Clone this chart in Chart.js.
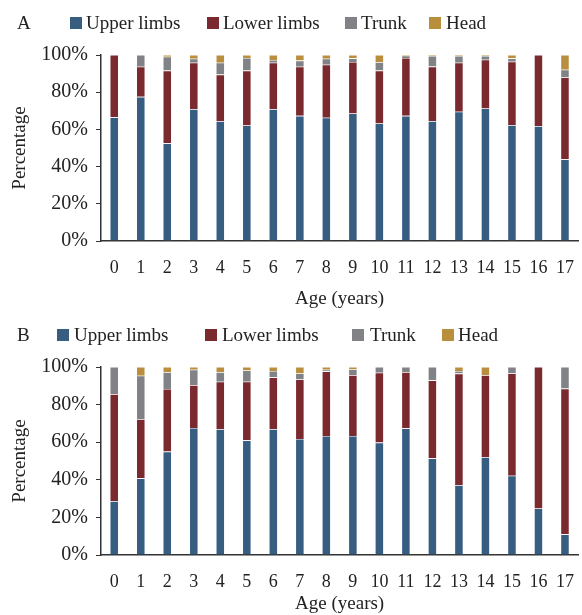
<!DOCTYPE html>
<html>
<head>
<meta charset="utf-8">
<script src="https://cdn.jsdelivr.net/npm/chart.js@4.4.1/dist/chart.umd.min.js"></script>
<style>
  body { margin: 0; background: #fff; font-family: "Liberation Serif", "Times New Roman", serif; color: #222; }
  #wrap { position: relative; width: 582px; height: 615px; overflow: hidden; }
  .panel { position: absolute; left: 0; width: 582px; }
  .legend { position: absolute; left: 0; height: 24px; font-size: 19px; line-height: 24px; }
  .legend span { position: absolute; white-space: nowrap; }
  .legend i { position: absolute; width: 12px; height: 12px; top: 6px; }
</style>
</head>
<body>
<div id="wrap">
  <div class="panel" style="top:0;height:310px"><canvas id="chartA"></canvas></div>
  <div class="panel" style="top:310px;height:305px"><canvas id="chartB"></canvas></div>
  <div class="legend" style="top:11px">
    <span style="left:17px">A</span>
    <i style="left:70px;background:#375d81"></i><span style="left:86px">Upper limbs</span>
    <i style="left:207px;background:#7a2a2e"></i><span style="left:223px">Lower limbs</span>
    <i style="left:345px;background:#808285"></i><span style="left:361px">Trunk</span>
    <i style="left:429px;background:#b98f3e"></i><span style="left:446px">Head</span>
  </div>
  <div class="legend" style="top:323px">
    <span style="left:17px">B</span>
    <i style="left:57px;background:#375d81"></i><span style="left:74px">Upper limbs</span>
    <i style="left:205px;background:#7a2a2e"></i><span style="left:222px">Lower limbs</span>
    <i style="left:352px;background:#808285"></i><span style="left:370px">Trunk</span>
    <i style="left:442px;background:#b98f3e"></i><span style="left:458px">Head</span>
  </div>
</div>
<script>
const ages = ["0", "1", "2", "3", "4", "5", "6", "7", "8", "9", "10", "11", "12", "13", "14", "15", "16", "17"];
const yTicks = [0, 20, 40, 60, 80, 100];

// Panel A
const upperA = [66.5, 77.5, 52.5, 70.9, 64.5, 62.1, 70.9, 67.3, 66.3, 68.6, 63.2, 67.3, 64.5, 69.5, 71.3, 62.3, 61.8, 43.9];
const lowerA = [33.5, 16.2, 39.1, 25.0, 25.0, 29.5, 25.0, 26.4, 28.5, 27.7, 28.4, 31.1, 29.3, 26.4, 26.2, 34.1, 38.2, 44.0];
const trunkA = [0, 6.3, 7.5, 2.1, 6.4, 6.8, 1.4, 3.3, 3.2, 1.9, 4.5, 1.2, 5.7, 3.6, 2.0, 1.8, 0, 4.2];
const headA = [0, 0, 0.9, 2.0, 4.1, 1.6, 2.7, 3.0, 2.0, 1.8, 3.9, 0.4, 0.5, 0.5, 0.5, 1.8, 0, 7.9];

// Panel B
const upperB = [28.7, 40.8, 55.0, 67.6, 67.0, 61.0, 67.0, 61.7, 63.3, 63.3, 59.8, 67.4, 51.4, 37.2, 52.1, 42.2, 24.8, 11.0];
const lowerB = [56.8, 31.5, 33.3, 22.8, 25.2, 31.2, 27.5, 31.7, 34.4, 32.4, 37.2, 29.9, 41.5, 59.3, 43.5, 54.4, 75.2, 77.5];
const trunkB = [14.5, 23.1, 8.9, 8.2, 5.0, 6.0, 3.4, 3.2, 0.9, 3.1, 3.0, 2.7, 7.1, 1.4, 0, 3.4, 0, 11.5];
const headB = [0, 4.6, 2.8, 1.4, 2.8, 1.8, 2.1, 3.4, 1.4, 1.2, 0, 0, 0, 2.1, 4.4, 0, 0, 0];

const colors = ["#375d81", "#7a2a2e", "#808285", "#b98f3e"];
const names = ["Upper limbs", "Lower limbs", "Trunk", "Head"];
const serif = "'Liberation Serif', 'Times New Roman', serif";

function makeChart(id, series, padTop, xHeight, tickPad, titlePad) {
  return new Chart(document.getElementById(id), {
    type: "bar",
    data: {
      labels: ages,
      datasets: series.map((data, i) => ({
        label: names[i],
        data,
        backgroundColor: colors[i],
        borderColor: "rgba(255,255,255,0.35)",
        borderWidth: 0.6,
        barPercentage: 0.33,
        categoryPercentage: 1,
      })),
    },
    options: {
      responsive: true,
      maintainAspectRatio: false,
      animation: false,
      layout: { padding: { top: padTop, right: 1, left: 9, bottom: 0 } },
      plugins: { legend: { display: false }, tooltip: { enabled: false } },
      scales: {
        x: {
          stacked: true,
          grid: { display: false },
          border: { display: true, color: "#333", width: 1.5 },
          ticks: { color: "#222", font: { family: serif, size: 18 }, maxRotation: 0, autoSkip: false, padding: tickPad },
          title: { display: true, text: "Age (years)", color: "#222", font: { family: serif, size: 19 }, padding: { top: titlePad, bottom: 0 } },
          afterFit: (scale) => { scale.height = xHeight; },
        },
        y: {
          stacked: true,
          min: 0,
          max: 100,
          afterBuildTicks: (scale) => { scale.ticks = yTicks.map((v) => ({ value: v })); },
          grid: { drawOnChartArea: false, drawTicks: true, tickLength: 5, color: "#333" },
          border: { display: true, color: "#333", width: 1.5 },
          ticks: { color: "#222", font: { family: serif, size: 20 }, padding: 8, callback: (v) => v + "%" },
          title: { display: true, text: "Percentage", color: "#222", font: { family: serif, size: 19 }, padding: { top: 0, bottom: 4 } },
          afterFit: (scale) => { scale.width = 92; },
        },
      },
    },
  });
}

makeChart("chartA", [upperA, lowerA, trunkA, headA], 55, 69, 8, 4);
makeChart("chartB", [upperB, lowerB, trunkB, headB], 57, 60, 8, 0);
</script>
</body>
</html>
